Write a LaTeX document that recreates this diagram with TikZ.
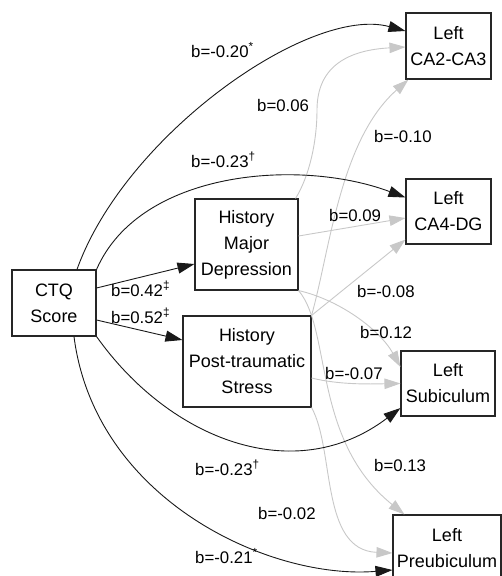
\documentclass[tikz,border=0pt]{standalone}
\usepackage{fontspec}
\setmainfont{Liberation Sans}
\usetikzlibrary{arrows.meta}
\definecolor{edgegray}{HTML}{C8C8C8}
\begin{document}
\begin{tikzpicture}[x=1pt,y=-1pt,
  box/.style={draw=black!85, line width=1.1pt, inner sep=0pt, align=center, font=\fontsize{18}{26}\selectfont},
  lab/.style={inner sep=0pt, anchor=base west, font=\fontsize{16.8}{18}\selectfont},
  blk/.style={draw=black!90, line width=0.9pt, -{Triangle[length=17pt,width=11pt]}},
  gry/.style={color=edgegray, line width=0.9pt, -{Triangle[length=16pt,width=10.5pt]}}
]
\useasboundingbox (0,0) rectangle (501,576);

% nodes
\node[box, minimum width=85pt, minimum height=66pt] (ca23) at (448.5,46) {Left\\CA2-CA3};
\node[box, minimum width=85pt, minimum height=65pt] (ca4) at (448.5,211.5) {Left\\CA4-DG};
\node[box, minimum width=103pt, minimum height=91pt] (hmd) at (246.5,244.5) {History\\Major\\Depression};
\node[box, minimum width=84pt, minimum height=66pt] (ctq) at (54,303) {CTQ\\Score};
\node[box, minimum width=128pt, minimum height=91pt] (hpts) at (247,361.5) {History\\Post-traumatic\\Stress};
\node[box, minimum width=94pt, minimum height=65pt] (sub) at (448,383.5) {Left\\Subiculum};
\node[box, minimum width=108pt, minimum height=66pt] (pre) at (447,548) {Left\\Preubiculum};

% gray connectors
\draw[gry] ([xshift=-3pt]hmd.north east) .. controls (310,175) and (317,140) .. (317,110)
  .. controls (317,65) and (350,50) .. ([yshift=-1pt]ca23.west);
\draw[gry] ([yshift=8.5pt]hmd.east) -- ([yshift=-6.5pt]ca4.west);
\draw[gry] (hmd.south east) .. controls (340,300) and (380,330) .. ([yshift=16.5pt]sub.west);
\draw[gry] (hmd.south east) .. controls (332,330) and (312,440) .. ([xshift=12pt]pre.north west);
\draw[gry] (hpts.north east) .. controls (330,250) and (340,140) .. ([xshift=3pt]ca23.south west);
\draw[gry] (hpts.north east) -- ([yshift=5pt]ca4.south west);
\draw[gry] ([yshift=-16.5pt]hpts.east) .. controls (340,385) and (370,384) .. (sub.west);
\draw[gry] (hpts.south east) .. controls (335,450) and (320,550) .. ([yshift=-5pt]pre.west);

% black connectors
\draw[blk] ([xshift=23pt]ctq.north) .. controls (125,135) and (310,5) .. ([yshift=15pt]ca23.west);
\draw[blk] (ctq.north east) .. controls (140,170) and (300,158) .. ([yshift=14pt]ca4.west);
\draw[blk] ([yshift=15pt]ctq.east) -- ([yshift=-19.5pt]hmd.west);
\draw[blk] ([yshift=-17pt]ctq.east) -- ([yshift=21.5pt]hpts.west);
\draw[blk] (ctq.south east) .. controls (170,440) and (295,488) .. ([yshift=-24.5pt]sub.west);
\draw[blk] ([xshift=20pt]ctq.south) .. controls (95,500) and (270,580) .. ([yshift=-22pt]pre.west);

% labels
\node[lab] (l1) at (191,57) {b=-0.20\textsuperscript{*}};
\node[lab] (l2) at (191,167) {b=-0.23\textsuperscript{†}};
\node[lab] (l3) at (111,296) {b=0.42\textsuperscript{‡}};
\node[lab] (l4) at (111,323) {b=0.52\textsuperscript{‡}};
\node[lab] (l5) at (195,475) {b=-0.23\textsuperscript{†}};
\node[lab] (l6) at (195,563) {b=-0.21\textsuperscript{*}};
\node[lab] (l7) at (257,111) {b=0.06};
\node[lab] (l8) at (374,142) {b=-0.10};
\node[lab] (l9) at (329,221) {b=0.09};
\node[lab] (l10) at (357,297) {b=-0.08};
\node[lab] (l11) at (360,338) {b=0.12};
\node[lab] (l12) at (325,379) {b=-0.07};
\node[lab] (l13) at (374,471) {b=0.13};
\node[lab] (l14) at (258,519) {b=-0.02};
\end{tikzpicture}
\end{document}
